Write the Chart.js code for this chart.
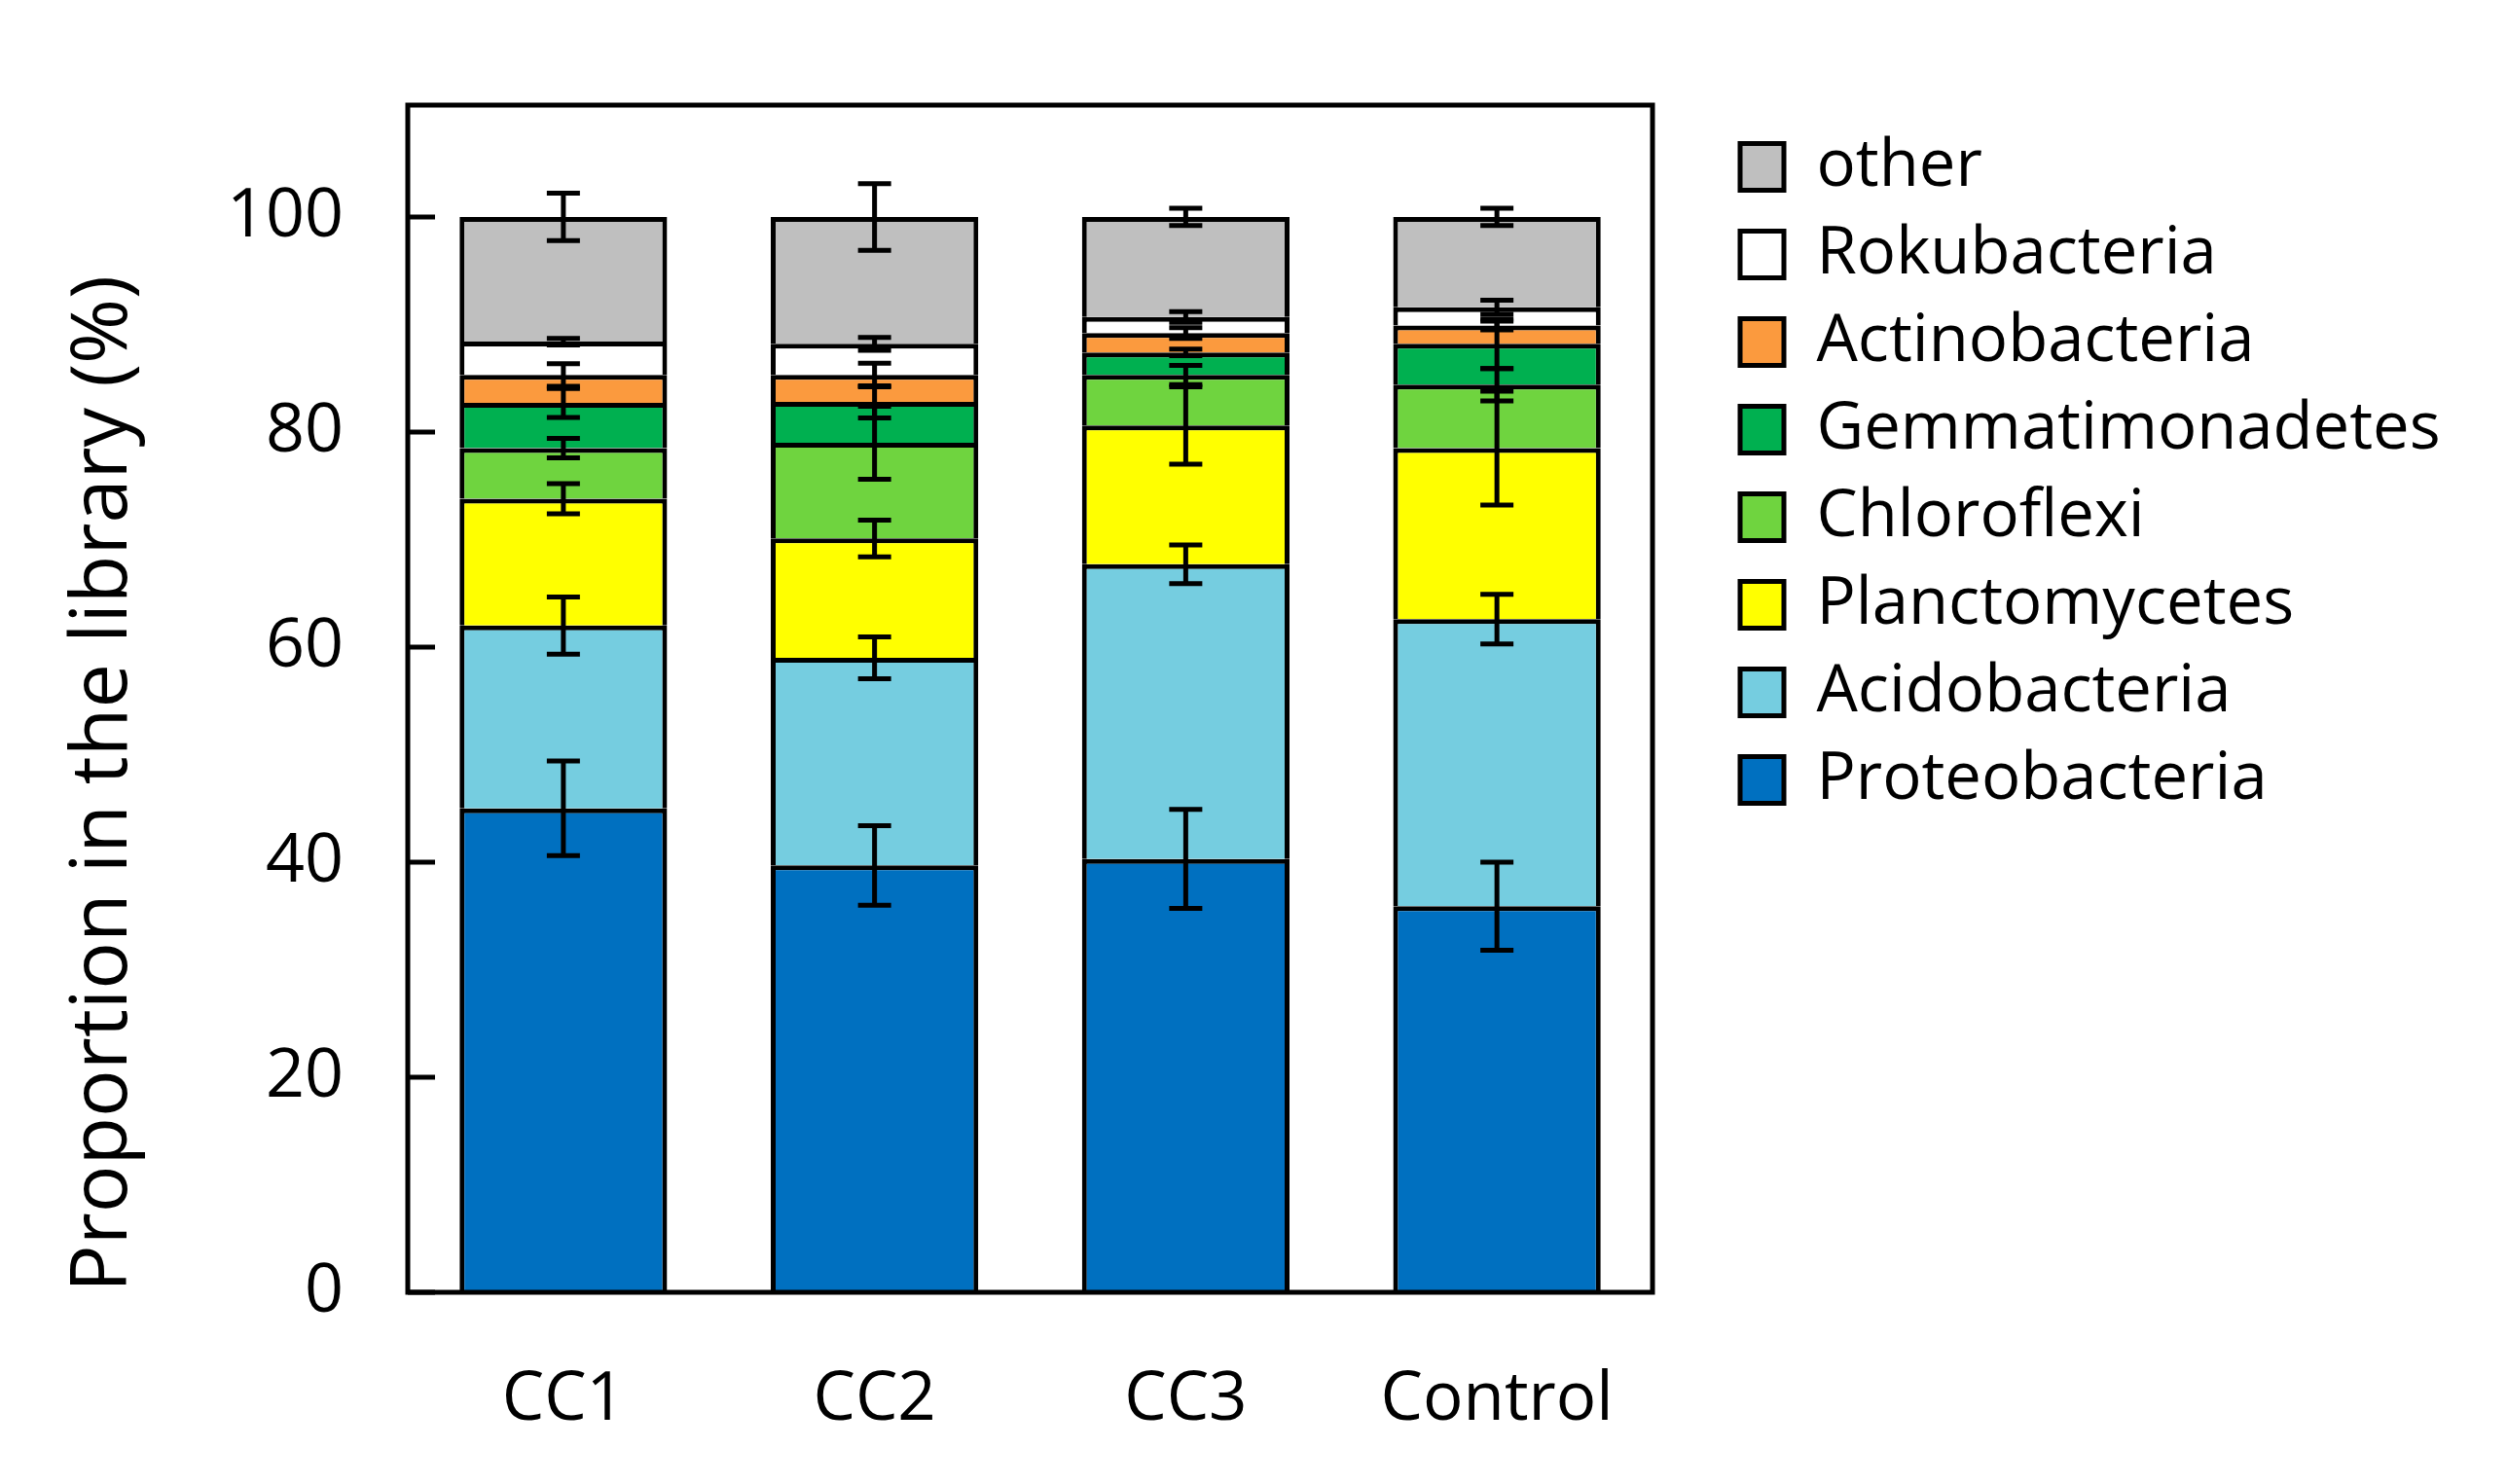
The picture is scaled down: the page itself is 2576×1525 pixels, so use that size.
<!DOCTYPE html>
<html>
<head>
<meta charset="utf-8">
<script src="https://cdn.jsdelivr.net/npm/chart.js@4.4.1/dist/chart.umd.min.js"></script>
<style>
  html, body { margin: 0; padding: 0; background: #fff; }
  canvas { display: block; }
</style>
</head>
<body>
<canvas id="chart" width="2576" height="1525"></canvas>
<script>
// samples on the x axis
const categories = ['CC1', 'CC2', 'CC3', 'Control'];

// phyla, bottom of the stack first
const seriesNames = ['Proteobacteria', 'Acidobacteria', 'Planctomycetes', 'Chloroflexi',
  'Gemmatimonadetes', 'Actinobacteria', 'Rokubacteria', 'other'];

// proportion in the library (%)
const proteobacteria = [45.0, 39.7, 40.3, 35.9];
const acidobacteria = [17.0, 19.3, 27.4, 26.7];
const planctomycetes = [11.8, 11.1, 12.9, 15.9];
const chloroflexi = [4.7, 8.9, 4.7, 5.9];
const gemmatimonadetes = [4.2, 3.8, 2.1, 3.8];
const actinobacteria = [2.6, 2.5, 1.8, 1.7];
const rokubacteria = [3.1, 2.9, 1.5, 1.7];
const other = [11.6, 11.8, 9.3, 8.4];

// error bars (+/-), drawn at the top of each segment
const proteobacteriaErr = [4.4, 3.7, 4.6, 4.1];
const acidobacteriaErr = [2.65, 1.95, 1.8, 2.3];
const planctomycetesErr = [1.4, 1.7, 3.6, 5.3];
const chloroflexiErr = [0.9, 3.4, 0.9, 1.5];
const gemmatimonadetesErr = [1.35, 1.5, 0.3, 2.3];
const actinobacteriaErr = [1.05, 1.1, 0.5, 0.4];
const rokubacteriaErr = [0.3, 0.6, 0.5, 0.65];
const otherErr = [2.2, 3.1, 0.8, 0.8];

const yTicks = [0, 20, 40, 60, 80, 100];

const values = [proteobacteria, acidobacteria, planctomycetes, chloroflexi,
  gemmatimonadetes, actinobacteria, rokubacteria, other];
const errors = [proteobacteriaErr, acidobacteriaErr, planctomycetesErr, chloroflexiErr,
  gemmatimonadetesErr, actinobacteriaErr, rokubacteriaErr, otherErr];
const colors = ['#0070C0', '#75CDE0', '#FFFF00', '#6FD43F',
  '#00B050', '#FB9A3E', '#FFFFFF', '#BFBFBF'];

const FONT = "'Open Sans', sans-serif";

// box round the plot + inner tick marks on the y axis
const frame = {
  id: 'frame',
  afterDatasetsDraw(chart) {
    const { ctx, chartArea: a } = chart;
    const y = chart.scales.y;
    ctx.save();
    ctx.strokeStyle = '#000';
    ctx.lineWidth = 5;
    ctx.strokeRect(a.left, a.top, a.right - a.left, a.bottom - a.top);
    ctx.beginPath();
    yTicks.forEach((v) => {
      const py = y.getPixelForValue(v);
      ctx.moveTo(a.left, py);
      ctx.lineTo(a.left + 28, py);
    });
    ctx.stroke();
    ctx.restore();
  }
};

const errorBars = {
  id: 'errorBars',
  afterDatasetsDraw(chart) {
    const ctx = chart.ctx;
    const y = chart.scales.y;
    ctx.save();
    ctx.strokeStyle = '#000';
    ctx.lineWidth = 5;
    values.forEach((series, i) => {
      const meta = chart.getDatasetMeta(i);
      meta.data.forEach((bar, j) => {
        let top = 0;
        for (let k = 0; k <= i; k++) top += values[k][j];
        const e = errors[i][j];
        const y1 = y.getPixelForValue(top + e);
        const y2 = y.getPixelForValue(top - e);
        ctx.beginPath();
        ctx.moveTo(bar.x, y1);
        ctx.lineTo(bar.x, y2);
        ctx.moveTo(bar.x - 17, y1);
        ctx.lineTo(bar.x + 17, y1);
        ctx.moveTo(bar.x - 17, y2);
        ctx.lineTo(bar.x + 17, y2);
        ctx.stroke();
      });
    });
    ctx.restore();
  }
};

// put the legend where the figure has it
const legendPlace = {
  id: 'legendPlace',
  afterLayout(chart) {
    const lg = chart.legend;
    lg.left = 1765;
    lg.right = 2576;
    lg.top = 115;
    lg.bottom = 1525;
  }
};

const ctx = document.getElementById('chart').getContext('2d');
const chart = new Chart(ctx, {
  type: 'bar',
  data: {
    labels: categories,
    datasets: values.map((data, i) => ({
      label: seriesNames[i],
      data: data,
      backgroundColor: colors[i],
      borderColor: '#000',
      borderWidth: 5,
      barPercentage: 0.667,
      categoryPercentage: 1.0,
    })),
  },
  options: {
    responsive: false,
    animation: false,
    devicePixelRatio: 1,
    layout: { padding: { left: 0, top: 104, right: 478, bottom: 37 } },
    plugins: {
      tooltip: { enabled: false },
      legend: {
        position: 'right',
        align: 'start',
        reverse: true,
        maxWidth: 400,
        labels: {
          boxWidth: 45,
          boxHeight: 48,
          padding: 23,
          color: '#000',
          font: { family: FONT, size: 67 },
        },
      },
    },
    scales: {
      x: {
        stacked: true,
        grid: { display: false, drawTicks: false },
        border: { display: false },
        ticks: { color: '#000', padding: 70, font: { family: FONT, size: 69 } },
        afterFit(scale) { scale.height = 160; },
      },
      y: {
        stacked: true,
        min: 0,
        max: 110.4,
        grid: { display: false, drawTicks: false },
        border: { display: false },
        ticks: {
          stepSize: 20,
          includeBounds: false,
          color: '#000',
          padding: 66,
          font: { family: FONT, size: 70 },
        },
        title: {
          display: true,
          text: 'Proportion in the library (%)',
          align: 'start',
          color: '#000',
          padding: { top: 58, bottom: 0 },
          font: { family: FONT, size: 81 },
        },
        afterFit(scale) { scale.width = 419; },
      },
    },
  },
  plugins: [errorBars, frame, legendPlace],
});
</script>
</body>
</html>
